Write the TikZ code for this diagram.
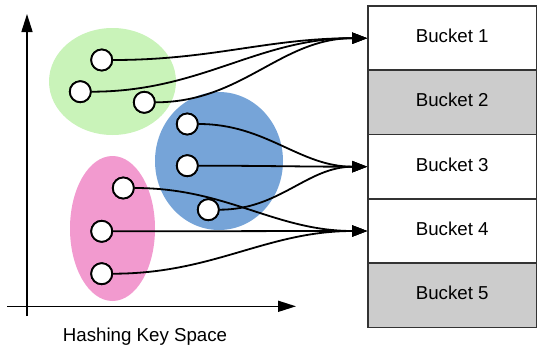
\documentclass[tikz,border=0pt]{standalone}
\usepackage{fontspec}
\setmainfont{Liberation Sans}
\usetikzlibrary{arrows.meta}
\definecolor{cgreen}{HTML}{C9F3B9}
\definecolor{cblue}{HTML}{76A4D8}
\definecolor{cpink}{HTML}{F29ACF}
\definecolor{cgray}{HTML}{CCCCCC}
\definecolor{cborder}{HTML}{333333}
\begin{document}
\begin{tikzpicture}[x=1pt,y=-1pt,
 key/.style={circle,draw=black,fill=white,line width=1.8pt,minimum size=21pt,inner sep=0pt},
 bucket/.style={rectangle,draw=cborder,line width=1.6pt,minimum width=168.5pt,minimum height=64.3pt,inner sep=0pt,text height=13pt,text depth=4pt,font=\fontsize{18.7}{22}\selectfont},
 link/.style={line width=1.8pt,-{Triangle[length=15pt,width=11pt]},out=0,in=180},
 axis/.style={line width=1.6pt,-{Triangle[length=18pt,width=11pt]}}]
\useasboundingbox (0,0) rectangle (538,346);
% groups
\fill[cgreen] (112.5,81.5) ellipse [x radius=63.5, y radius=53.5];
\fill[cblue] (219,161) ellipse [x radius=64, y radius=69];
\fill[cpink] (112.5,228.5) ellipse [x radius=42.5, y radius=72.5];
% axes
\coordinate (ys) at (27,316);
\coordinate (ye) at (27,14);
\coordinate (xs) at (7,306.3);
\coordinate (xe) at (296,306.3);
\draw[axis] (ys) -- (ye);
\draw[axis] (xs) -- (xe);
\node[font=\fontsize{18.7}{22}\selectfont,anchor=base] (lbl) at (145,341.3) {Hashing Key Space};
% buckets
\node[bucket,fill=white] (b1) at (452.25,38.2) {Bucket 1};
\node[bucket,fill=cgray] (b2) at (452.25,102.4) {Bucket 2};
\node[bucket,fill=white] (b3) at (452.25,166.7) {Bucket 3};
\node[bucket,fill=white] (b4) at (452.25,231) {Bucket 4};
\node[bucket,fill=cgray] (b5) at (452.25,295.2) {Bucket 5};
% keys
\node[key] (k1) at (101.7,60) {};
\node[key] (k2) at (80.3,91.7) {};
\node[key] (k3) at (144.3,102.3) {};
\node[key] (k4) at (187.3,124) {};
\node[key] (k5) at (187.3,165.7) {};
\node[key] (k6) at (208.3,209.7) {};
\node[key] (k7) at (123.3,188) {};
\node[key] (k8) at (101.7,231.3) {};
\node[key] (k9) at (101.7,273.7) {};
% links
\draw[link] (k1) to (b1.west);
\draw[link] (k2) to (b1.west);
\draw[link] (k3) to (b1.west);
\draw[link] (k4) to (b3.west);
\draw[link] (k5) to (b3.west);
\draw[link] (k6) to (b3.west);
\draw[link] (k7) to (b4.west);
\draw[link] (k8) to (b4.west);
\draw[link] (k9) to (b4.west);
% keys on top
\foreach \k in {k1,k2,k3,k4,k5,k6,k7,k8,k9}{\node[key] at (\k) {};}
\end{tikzpicture}
\end{document}
